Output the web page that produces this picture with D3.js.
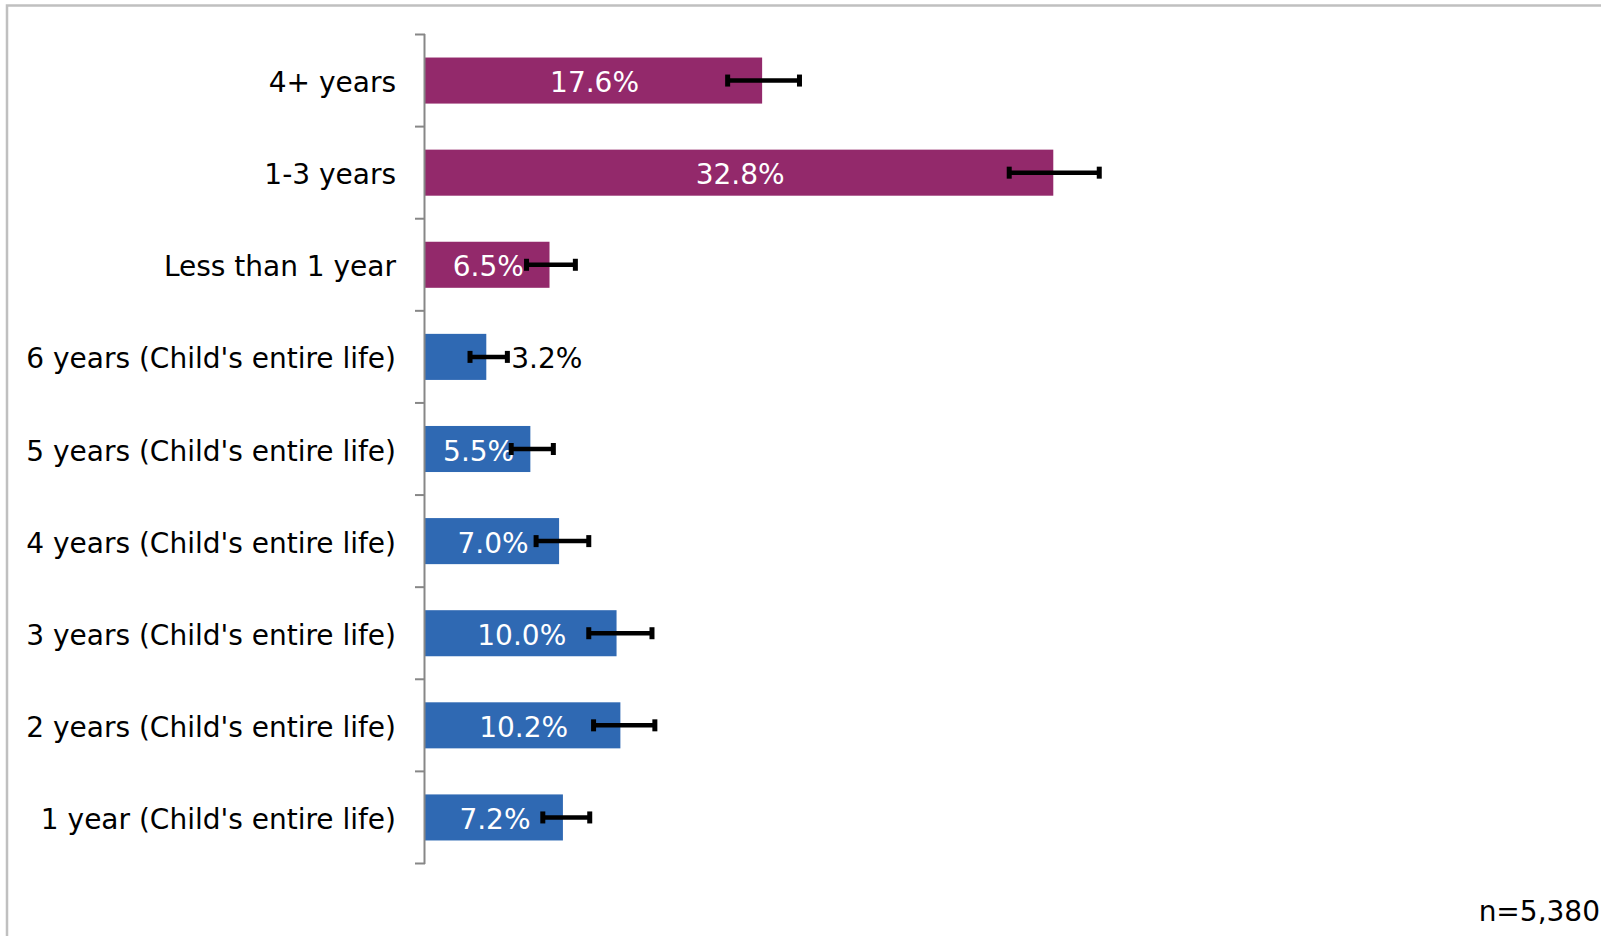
<!DOCTYPE html>
<html>
<head>
<meta charset="utf-8">
<script src="https://cdn.jsdelivr.net/npm/d3@7"></script>
<style>
  html, body { margin: 0; padding: 0; background: #fff; }
  svg { display: block; }
  text { font-family: "DejaVu Sans", Verdana, sans-serif; }
</style>
</head>
<body>
<svg id="chart" width="1601" height="936"></svg>
<script>
// ---- data ----
const categories = [
  "4+ years",
  "1-3 years",
  "Less than 1 year",
  "6 years (Child's entire life)",
  "5 years (Child's entire life)",
  "4 years (Child's entire life)",
  "3 years (Child's entire life)",
  "2 years (Child's entire life)",
  "1 year (Child's entire life)"
];
const values   = [17.6, 32.8, 6.5, 3.2, 5.5, 7.0, 10.0, 10.2, 7.2];
const ciLow    = [15.8, 30.5, 5.3, 2.35, 4.5, 5.8, 8.55, 8.8, 6.15];
const ciHigh   = [19.55, 35.2, 7.85, 4.3, 6.7, 8.55, 11.85, 12.0, 8.6];
const groups   = ["parent","parent","parent","child","child","child","child","child","child"];
const sampleNote = "n=5,380";

// ---- layout ----
const svg = d3.select("#chart");
const W = 1601, H = 936;
const colors = { parent: "#93296B", child: "#2F69B3" };

// outer frame
svg.append("path")
  .attr("d", `M7,${H} L7,5.5 L${W},5.5`)
  .attr("fill", "none")
  .attr("stroke", "#C0C0C0")
  .attr("stroke-width", 2.5);

const x = d3.scaleLinear().domain([0, 60]).range([425, 425 + 60 * 19.155]);
const y = d3.scaleBand().domain(categories).range([34.5, 863.5])
  .paddingInner(0.5).paddingOuter(0.25);

const data = categories.map((c, i) => ({
  cat: c, v: values[i], lo: ciLow[i], hi: ciHigh[i], g: groups[i]
}));

// bars
svg.append("g").selectAll("rect").data(data).join("rect")
  .attr("x", x(0))
  .attr("y", d => y(d.cat))
  .attr("width", d => x(d.v) - x(0))
  .attr("height", y.bandwidth())
  .attr("fill", d => colors[d.g]);

// axis (category) with ticks between bands
const axisG = svg.append("g");
axisG.append("line")
  .attr("x1", 424.5).attr("x2", 424.5)
  .attr("y1", 34).attr("y2", 864)
  .attr("stroke", "#878787").attr("stroke-width", 2);
const boundaries = d3.range(categories.length + 1).map(i => 34.5 + i * y.step());
axisG.selectAll("line.tick").data(boundaries).join("line")
  .attr("class", "tick")
  .attr("x1", 415).attr("x2", 425)
  .attr("y1", d => d).attr("y2", d => d)
  .attr("stroke", "#878787").attr("stroke-width", 2);

// category labels
svg.append("g").selectAll("text").data(data).join("text")
  .attr("x", 396)
  .attr("y", d => y(d.cat) + y.bandwidth() / 2 + 11.5)
  .attr("text-anchor", "end")
  .attr("font-size", 28)
  .attr("fill", "#000")
  .text(d => d.cat);

// value labels
const fmt = v => v.toFixed(1) + "%";
const lbl = svg.append("g").selectAll("text").data(data).join("text")
  .attr("y", d => y(d.cat) + y.bandwidth() / 2 + 11.5)
  .attr("font-size", 28)
  .text(d => fmt(d.v));
lbl.each(function(d) {
  const w = this.getComputedTextLength();
  const bw = x(d.v) - x(0);
  const t = d3.select(this);
  if (bw > w + 10) {
    t.attr("x", x(0) + bw / 2 + 1).attr("text-anchor", "middle").attr("fill", "#fff");
  } else {
    t.attr("x", x(d.v) + 25).attr("text-anchor", "start").attr("fill", "#000");
  }
});

// error bars
const eb = svg.append("g").selectAll("g").data(data).join("g");
eb.append("line")
  .attr("x1", d => x(d.lo)).attr("x2", d => x(d.hi))
  .attr("y1", d => y(d.cat) + y.bandwidth() / 2)
  .attr("y2", d => y(d.cat) + y.bandwidth() / 2)
  .attr("stroke", "#000").attr("stroke-width", 4.5);
eb.selectAll("rect").data(d => [[d, d.lo], [d, d.hi]]).join("rect")
  .attr("x", p => x(p[1]) - 2.5)
  .attr("y", p => y(p[0].cat) + y.bandwidth() / 2 - 6)
  .attr("width", 5)
  .attr("height", 12)
  .attr("fill", "#000");

// sample size note
svg.append("text")
  .attr("x", 1600).attr("y", 921)
  .attr("text-anchor", "end")
  .attr("font-size", 28)
  .attr("fill", "#000")
  .text(sampleNote);
</script>
</body>
</html>
